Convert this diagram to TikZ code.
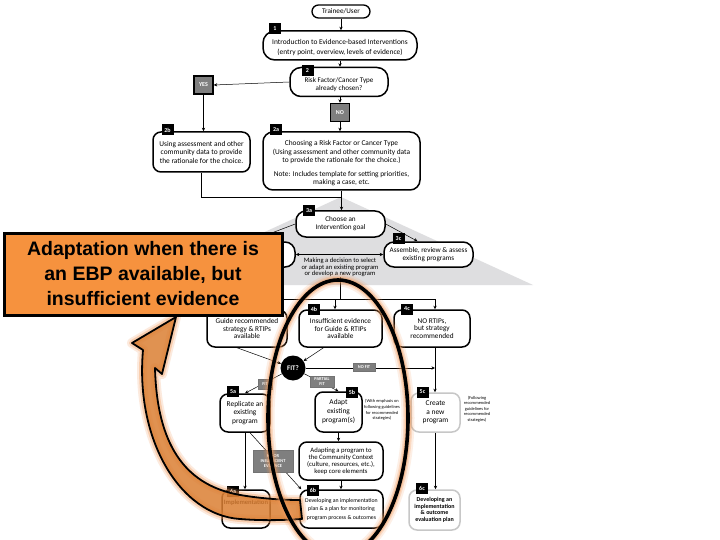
\documentclass[tikz,border=0pt]{standalone}
\usepackage{fontspec}
\setmainfont{Carlito}
\newfontfamily\calfont{Liberation Sans}
\usetikzlibrary{arrows.meta}
\definecolor{orng}{HTML}{F6923E}
\definecolor{arrfill}{HTML}{DB7F33}
\definecolor{glow}{HTML}{F29A5A}
\definecolor{tri}{HTML}{DEDEE0}
\definecolor{gry}{HTML}{7F7F7F}
\begin{document}
\begin{tikzpicture}[x=1pt,y=-1pt,
 box/.style={draw, line width=1.5pt, rounded corners=8pt, fill=white, align=center, inner sep=1pt, font=\fontsize{7.4}{8.5}\selectfont},
 gbox/.style={box, draw=black!22},
 txt/.style={align=center, inner sep=0pt},
 lbl/.style={fill=black, text=white, font=\bfseries\fontsize{6}{6}\selectfont, minimum width=12pt, minimum height=11pt, inner sep=0pt},
 yn/.style={fill=gry, draw=black, line width=1.5pt, text=white, font=\bfseries\fontsize{6}{6}\selectfont, minimum width=19pt, minimum height=18pt, inner sep=0pt},
 glbl/.style={fill=gry, draw=black!55, line width=0.4pt, text=white, font=\bfseries\fontsize{4.4}{4.6}\selectfont, align=center, inner sep=1pt},
 conn/.style={line width=0.5pt, -{Stealth[length=3.5pt,width=3.2pt]}},
 dconn/.style={line width=0.5pt, {Stealth[length=3.5pt,width=3.2pt]}-{Stealth[length=3.5pt,width=3.2pt]}},
 ln/.style={line width=0.5pt},
 note/.style={align=center, inner sep=0pt, font=\fontsize{4.4}{5.6}\selectfont},
]
\useasboundingbox (0,0) rectangle (720,540);
\fill[white] (0,0) rectangle (720,540);

% grey triangle
\fill[tri] (341,197) -- (533,285) -- (149,285) -- cycle;

% boxes
\node[box, minimum width=58pt, minimum height=13pt, rounded corners=6.5pt, line width=1.3pt, font=\fontsize{7.2}{8}\selectfont] (tu) at (341,11.5) {Trainee/User};
\node[box, minimum width=154pt, minimum height=29pt, rounded corners=12pt] (b1) at (340,45.5) {};
\node[txt, font=\fontsize{7.4}{10}\selectfont] (b1t) at (340,48) {Introduction to Evidence-based Interventions\\(entry point, overview, levels of evidence)};
\node[box, minimum width=98pt, minimum height=29pt, rounded corners=11pt] (b2) at (339,82) {};
\node[txt, font=\fontsize{7.1}{8.2}\selectfont] (b2t) at (339,85) {Risk Factor/Cancer Type\\already chosen?};
\node[yn] (yes) at (203.5,85) {YES};
\node[yn] (no) at (340,112.5) {NO};
\node[box, minimum width=97pt, minimum height=40pt] (b2b) at (201.5,152) {Using assessment and other\\community data to provide\\the rationale for the choice.};
\node[box, minimum width=157pt, minimum height=58pt, rounded corners=10pt] (b2a) at (341.5,161) {};
\node[txt, font=\fontsize{7.4}{8.5}\selectfont] (b2at) at (341.5,163.5) {Choosing a Risk Factor or Cancer Type\\(Using assessment and other community data\\to provide the rationale for the choice.)\\[5pt]Note: Includes template for setting priorities,\\making a case, etc.};
\node[box, minimum width=89pt, minimum height=26pt, rounded corners=10pt, font=\fontsize{7.2}{8.2}\selectfont] (b3a) at (340.5,224) {Choose an\\Intervention goal};
\node[box, minimum width=89pt, minimum height=25pt, rounded corners=10pt, font=\fontsize{7.2}{8.2}\selectfont] (b3c) at (428.5,254.5) {Assemble, review \& assess\\existing programs};
\node[box, minimum width=90pt, minimum height=25pt, rounded corners=10pt] (b3b) at (250,254.5) {};
\node[align=center, inner sep=0pt, font=\fontsize{6.6}{6.6}\selectfont] (t3b) at (340,267.5) {Making a decision to select\\or adapt an existing program\\or develop a new program};
\node[box, minimum width=80pt, minimum height=37pt, font=\fontsize{7.3}{7.8}\selectfont] (b4a) at (247,328.5) {Guide recommended\\strategy \& RTIPs\\available};
\node[box, minimum width=83pt, minimum height=37pt, font=\fontsize{7.3}{7.8}\selectfont] (b4b) at (340.5,328.5) {Insufficient evidence\\for Guide \& RTIPs\\available};
\node[box, minimum width=76pt, minimum height=37pt, font=\fontsize{7.3}{7.8}\selectfont] (b4c) at (432,328.5) {NO RTIPs,\\but strategy\\recommended};
\node[circle, fill=black, text=white, minimum size=25pt, inner sep=0pt, font=\bfseries\fontsize{7}{7}\selectfont] (fit) at (293,368) {FIT?};
\node[box, minimum width=50pt, minimum height=38pt, font=\fontsize{7.4}{8.6}\selectfont] (b5a) at (245,413) {Replicate an\\existing\\program};
\node[box, minimum width=47pt, minimum height=40pt, font=\fontsize{7.4}{9}\selectfont] (b5b) at (338.5,412) {Adapt\\existing\\program(s)};
\node[gbox, minimum width=49pt, minimum height=39pt, font=\fontsize{7.4}{8.6}\selectfont] (b5c) at (435.5,412.5) {Create\\a new\\program};
\node[box, minimum width=84pt, minimum height=38pt, font=\fontsize{6.7}{6.9}\selectfont] (bad) at (341,461) {Adapting a program to\\the Community Context\\(culture, resources, etc.),\\keep core elements};
\node[box, minimum width=48pt, minimum height=38pt, font=\bfseries\fontsize{6.6}{8}\selectfont, text depth=14pt] (b6a) at (246,509) {Implementation};
\node[box, minimum width=83pt, minimum height=38pt, font=\fontsize{5.8}{8.5}\selectfont] (b6b) at (341.5,509) {Developing an implementation\\plan \& a plan for monitoring\\program process \& outcomes};
\node[gbox, minimum width=51pt, minimum height=40pt, font=\bfseries\fontsize{6}{6.5}\selectfont] (b6c) at (434.5,510) {Developing an\\implementation\\\& outcome\\evaluation plan};

\node[note] (n5b) at (382,410) {(With emphasis on\\following guidelines\\for recommended\\strategies)};
\node[note] (n5c) at (477,409) {(Following\\recommended\\guidelines for\\recommended\\strategies)};

% connectors
\draw[conn] (tu.south) -- (tu.south |- b1.north);
\draw[conn] (b1.south) -- (b1.south |- b2.north);
\draw[conn] (b2.west) -- (yes.east);
\draw[conn] (yes.south) -- (yes.south |- b2b.north);
\draw[conn] (no.north |- b2.south) -- (no.north);
\draw[conn] (no.south) -- (no.south |- b2a.north);
\coordinate (j2) at (341,197);
\draw[ln] (b2b.south) |- (j2);
\draw[conn] (b2a.south) -- (b2a.south |- b3a.north);
\draw[conn] (b3a.east) -- ([xshift=-11pt]b3c.north);
\draw[conn] (b3a.west) -- (b3b.north);
\draw[dconn] (b3b.east) -- (b3c.west);
\coordinate (h4) at (340,299);
\draw[ln] (t3b.south) -- (h4);
\draw[ln] (h4 -| b4a.north) -- (h4 -| 435,0);
\draw[conn] (h4 -| b4a.north) -- (b4a.north);
\draw[conn] (h4 -| 335,0) -- ([xshift=-5.5pt]b4b.north);
\draw[conn] (h4 -| 435,0) -- ([xshift=3pt]b4c.north);
\draw[conn] ([xshift=-10pt]b4a.south) -- (fit);
\draw[conn] ([xshift=-17pt]b4b.south) -- (fit);
\coordinate (c4c) at ([xshift=3pt]b4c.south);
\draw[conn] (fit.east) -- (fit.east -| c4c);
\draw[conn] (c4c) -- (c4c |- b5c.north);
\draw[conn] (fit) -- (b5b.north);
\draw[conn] (fit) -- (b5a.north);
\draw[conn] (b5b.south) -- (b5b.south |- bad.north);
\draw[conn] (bad.south) -- (bad.south |- b6b.north);
\draw[conn] (b5a.south) -- (b5a.south |- b6a.north);
\draw[conn] ([xshift=5pt]b5a.south) -- ([xshift=2pt]b6b.north west);
\draw[conn] (b5c.south) -- (b5c.south |- b6c.north);

% labels
\node[lbl] at (275,28.5) {1};
\node[lbl] at (307.5,70.5) {2};
\node[lbl] at (167.5,130) {2b};
\node[lbl] at (276,130) {2a};
\node[lbl] at (309,211) {3a};
\node[lbl] at (398.5,238.5) {3c};
\node[lbl] at (314,309) {4b};
\node[lbl] at (407,309) {4c};
\node[lbl] at (233,391.5) {5a};
\node[lbl] at (352,392) {5b};
\node[lbl] at (422.5,392) {5c};
\node[lbl] at (233,491) {6a};
\node[lbl] at (313,490) {6b};
\node[lbl] at (422,488) {6c};

\node[glbl, minimum width=22pt, minimum height=8pt] at (364,367) {NO FIT};
\node[glbl, minimum width=24pt, minimum height=11pt] at (322,381.5) {PARTIAL\\FIT};
\node[glbl, minimum width=14pt, minimum height=10pt] at (265,384) {FIT};
\node[glbl, minimum width=40pt, minimum height=22pt] at (273,461) {NO OR\\INSUFFICIENT\\EVIDENCE};

% curved arrow
\def\arrowpath{(300,500) .. controls (280,500) and (255,498) .. (235,494)
  .. controls (185,483) and (157,445) .. (155,368)
  -- (162,374) -- (176,317) -- (132,343) -- (143,350)
  .. controls (135,440) and (180,515) .. (240,519)
  .. controls (265,521) and (285,520) .. (302,519) -- cycle}
\draw[glow, line width=10pt, opacity=0.2, line join=round] \arrowpath;
\draw[glow, line width=6pt, opacity=0.35, line join=round] \arrowpath;
\filldraw[fill=arrfill, fill opacity=0.85, draw=black, line width=1.8pt, line join=round] \arrowpath;

% ellipse
\draw[glow, line width=13pt, opacity=0.15] (338,418) ellipse [x radius=70pt, y radius=138pt];
\draw[glow, line width=9pt, opacity=0.25] (338,418) ellipse [x radius=70pt, y radius=138pt];
\draw[glow, line width=6pt, opacity=0.4] (338,418) ellipse [x radius=70pt, y radius=138pt];
\draw[black, line width=3.6pt] (338,418) ellipse [x radius=70pt, y radius=138pt];

% callout
\node[fill=orng, draw=black, line width=3pt, minimum width=278pt, minimum height=82pt, align=center, inner sep=0pt, font=\calfont\bfseries\fontsize{19.5}{25}\selectfont] (co) at (143,274) {Adaptation when there is\\an EBP available, but\\insufficient evidence};
\end{tikzpicture}
\end{document}
